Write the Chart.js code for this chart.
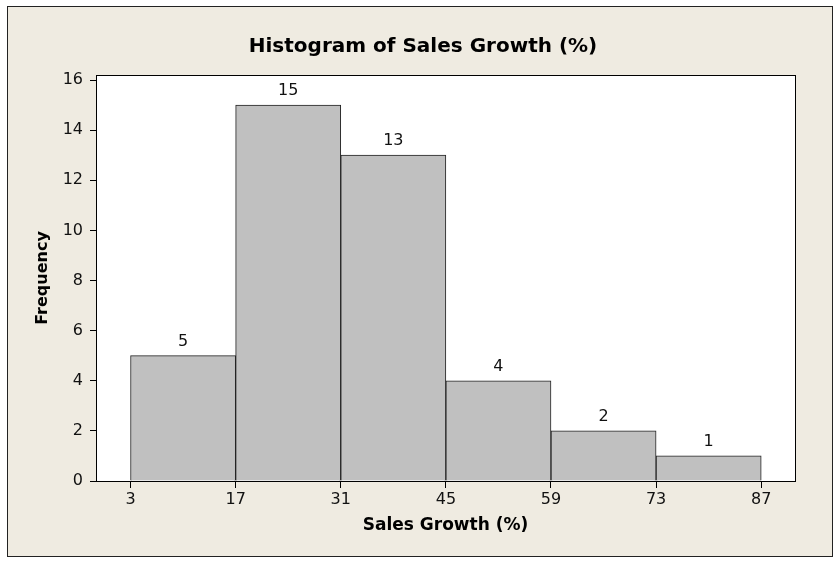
<!DOCTYPE html>
<html>
<head>
<meta charset="utf-8">
<script src="https://cdn.jsdelivr.net/npm/chart.js@4.4.1/dist/chart.umd.min.js"></script>
<style>
  html, body { margin: 0; padding: 0; background: #ffffff; }
  #wrap { width: 834px; height: 561px; position: relative; }
</style>
</head>
<body>
<div id="wrap"><canvas id="histChart" width="834" height="561"></canvas></div>
<script>
// 資料
const chartTitle = 'Histogram of Sales Growth (%)';
const binEdges = [3, 17, 31, 45, 59, 73, 87];
const binMids = [10, 24, 38, 52, 66, 80];
const frequencies = [5, 15, 13, 4, 2, 1];
const yTicks = [0, 2, 4, 6, 8, 10, 12, 14, 16];

const FONT = "'DejaVu Sans', Verdana, sans-serif";

// 背景框、標題與繪圖區外框
const framePlugin = {
    id: 'frame',
    beforeDraw(chart) {
        const c = chart.ctx;
        const a = chart.chartArea;
        c.save();
        c.fillStyle = '#ffffff';
        c.fillRect(0, 0, chart.width, chart.height);
        c.fillStyle = '#efebe1';
        c.fillRect(7, 6, 826, 551);
        c.strokeStyle = '#222';
        c.lineWidth = 1;
        c.strokeRect(7.5, 6.5, 825, 550);
        c.fillStyle = '#ffffff';
        c.fillRect(a.left, a.top, a.right - a.left, a.bottom - a.top);
        // 標題
        c.fillStyle = '#000';
        c.font = 'bold 20px ' + FONT;
        c.textAlign = 'center';
        c.textBaseline = 'middle';
        c.fillText(chartTitle, 423, 47);
        c.restore();
    },
    afterDatasetsDraw(chart) {
        const c = chart.ctx;
        const a = chart.chartArea;
        c.save();
        c.strokeStyle = '#000';
        c.lineWidth = 1;
        c.strokeRect(Math.round(a.left) + 0.5, Math.round(a.top) + 0.5,
            Math.round(a.right - a.left), Math.round(a.bottom - a.top));
        // 柱上數字
        const meta = chart.getDatasetMeta(0);
        c.fillStyle = '#111';
        c.font = '16px ' + FONT;
        c.textAlign = 'center';
        c.textBaseline = 'bottom';
        meta.data.forEach((bar, i) => {
            c.fillText(String(frequencies[i]), bar.x, bar.y - 6);
        });
        c.restore();
    }
};

const ctx = document.getElementById('histChart');
new Chart(ctx, {
    type: 'bar',
    data: {
        datasets: [{
            data: binMids.map((m, i) => ({ x: m, y: frequencies[i] })),
            backgroundColor: '#c0c0c0',
            borderColor: '#222',
            borderWidth: 1,
            borderSkipped: 'bottom',
            barPercentage: 1,
            categoryPercentage: 1
        }]
    },
    options: {
        responsive: false,
        animation: false,
        layout: { padding: { left: 0, right: 39, top: 75, bottom: 0 } },
        plugins: {
            legend: { display: false },
            tooltip: { enabled: false },
            title: { display: false }
        },
        scales: {
            x: {
                type: 'linear',
                min: -1.6,
                max: 91.5,
                offset: false,
                afterBuildTicks(scale) { scale.ticks = binEdges.map(v => ({ value: v })); },
                afterFit(scale) { scale.height = 80; },
                grid: { offset: false, drawOnChartArea: false, drawTicks: true, tickLength: 7, color: '#000' },
                border: { display: false },
                ticks: { color: '#111', font: { family: FONT, size: 16 }, padding: 2, maxRotation: 0, autoSkip: false },
                title: {
                    display: true,
                    text: 'Sales Growth (%)',
                    color: '#000',
                    font: { family: FONT, size: 17, weight: 'bold', lineHeight: 1.2 },
                    padding: { top: 0, bottom: 25 }
                }
            },
            y: {
                min: 0,
                max: 16.2,
                afterBuildTicks(scale) { scale.ticks = yTicks.map(v => ({ value: v })); },
                afterFit(scale) { scale.width = 96; },
                grid: { drawOnChartArea: false, drawTicks: true, tickLength: 6, color: '#000' },
                border: { display: false },
                ticks: { color: '#111', font: { family: FONT, size: 16 }, padding: 7 },
                title: {
                    display: true,
                    text: 'Frequency',
                    color: '#000',
                    font: { family: FONT, size: 16, weight: 'bold', lineHeight: 1.2 },
                    padding: { top: 33, bottom: 0 }
                }
            }
        }
    },
    plugins: [framePlugin]
});
</script>
</body>
</html>
